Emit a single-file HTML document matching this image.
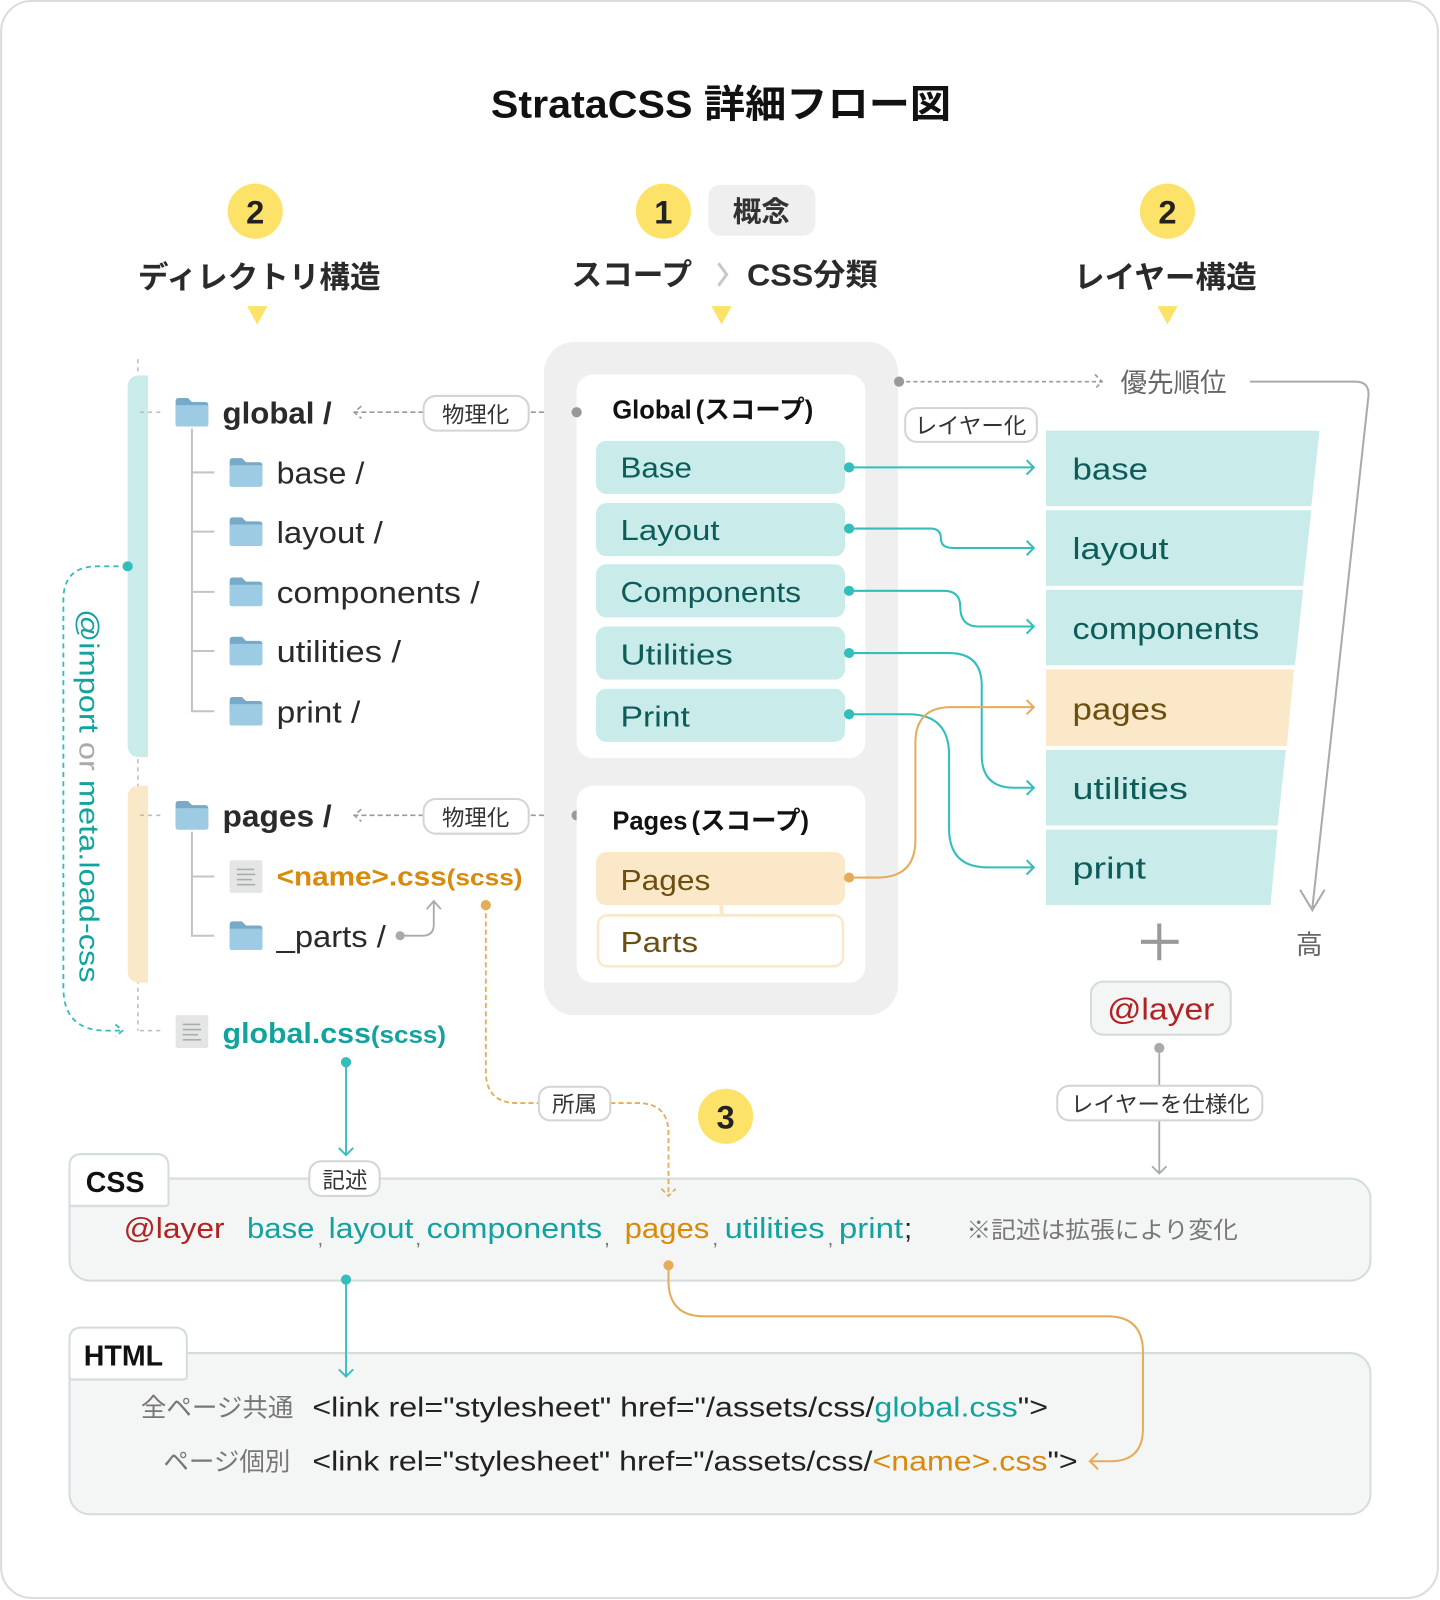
<!DOCTYPE html>
<html><head><meta charset="utf-8"><style>
html,body{margin:0;padding:0;background:#fff;}
svg{display:block;}
text{font-family:"Liberation Sans","Noto Sans CJK JP",sans-serif;}
</style></head><body>
<svg width="1440" height="1600" viewBox="0 0 1411 1568" xmlns="http://www.w3.org/2000/svg">
<defs>
<g id="fold"><path d="M0 3 q0-3 3-3 h9 l4 4 h13 q3 0 3 3 v18 q0 3-3 3 h-26 q-3 0-3-3z" fill="#77a9c9"/><rect x="0" y="7" width="32" height="21" rx="2" fill="#9ccbe3"/></g>
<g id="doc"><rect width="32" height="32" rx="2" fill="#e4e6e6"/><g stroke="#a9adad" stroke-width="1.6"><line x1="7" y1="9" x2="24" y2="9"/><line x1="7" y1="14" x2="25" y2="14"/><line x1="7" y1="19" x2="22" y2="19"/><line x1="7" y1="24" x2="25" y2="24"/></g></g>
</defs>
<rect x="1" y="1" width="1408" height="1565" rx="30" fill="#fff" stroke="#dcdcdc" stroke-width="2"/>

<text x="481" y="115" font-size="38" font-weight="bold" fill="#111" textLength="451" lengthAdjust="spacingAndGlyphs">StrataCSS 詳細フロー図</text>

<g font-weight="bold" font-size="32" text-anchor="middle" fill="#222">
<circle cx="250" cy="207" r="27" fill="#fde26a"/><text x="250" y="219">2</text>
<circle cx="650" cy="207" r="27" fill="#fde26a"/><text x="650" y="219">1</text>
<circle cx="1144" cy="207" r="27" fill="#fde26a"/><text x="1144" y="219">2</text>
<circle cx="711" cy="1094" r="27" fill="#fde26a"/><text x="711" y="1106">3</text>
</g>
<rect x="694" y="181" width="105" height="50" rx="12" fill="#efefef"/>
<text x="746" y="217" text-anchor="middle" font-size="28" font-weight="bold" fill="#333">概念</text>

<g font-size="30" font-weight="bold" fill="#2a2a2a">
<text x="254" y="282" text-anchor="middle">ディレクトリ構造</text>
<text x="560" y="280">スコープ</text>
<text x="732" y="280" textLength="128" lengthAdjust="spacingAndGlyphs">CSS分類</text>
<text x="1142" y="282" text-anchor="middle">レイヤー構造</text>
</g>
<path d="M704 258 l8 11 l-8 11" fill="none" stroke="#c8c8c8" stroke-width="3"/>
<g fill="#fde26a"><path d="M242 300 h20 l-10 18z"/><path d="M697 300 h20 l-10 18z"/><path d="M1134 300 h20 l-10 18z"/></g>

<!-- left tree -->
<line x1="135" y1="352" x2="135" y2="1010" stroke="#bbb" stroke-width="1.5" stroke-dasharray="4 4"/>
<path d="M145 368 v374 h-8 q-12 0 -12-12 v-350 q0-12 12-12z" fill="#c9ecea"/>
<path d="M145 770 v193 h-8 q-12 0 -12-12 v-169 q0-12 12-12z" fill="#fbe8c8"/>
<g stroke="#bbb" stroke-width="1.5" stroke-dasharray="4 4"><line x1="137" y1="404" x2="160" y2="404"/><line x1="137" y1="799" x2="160" y2="799"/><line x1="137" y1="1010" x2="160" y2="1010"/></g>
<path d="M188 420 V697 H210 M188 463 H210 M188 521 H210 M188 580 H210 M188 638 H210" fill="none" stroke="#c4c4c4" stroke-width="2"/>
<path d="M188 815 V917 H210 M188 859 H210" fill="none" stroke="#c4c4c4" stroke-width="2"/>
<use href="#fold" x="172" y="390"/>
<use href="#fold" x="225" y="449"/>
<use href="#fold" x="225" y="507"/>
<use href="#fold" x="225" y="566"/>
<use href="#fold" x="225" y="624"/>
<use href="#fold" x="225" y="683"/>
<use href="#fold" x="172" y="785"/>
<use href="#doc" x="225" y="843"/>
<use href="#fold" x="225" y="903"/>
<use href="#doc" x="172" y="995"/>
<g fill="#2a2a2a" font-size="30" lengthAdjust="spacingAndGlyphs">
<text x="218" y="415" font-weight="bold" textLength="107" lengthAdjust="spacingAndGlyphs">global /</text>
<text x="271" y="474" textLength="86" lengthAdjust="spacingAndGlyphs">base /</text>
<text x="271" y="532" textLength="104" lengthAdjust="spacingAndGlyphs">layout /</text>
<text x="271" y="591" textLength="199" lengthAdjust="spacingAndGlyphs">components /</text>
<text x="271" y="649" textLength="122" lengthAdjust="spacingAndGlyphs">utilities /</text>
<text x="271" y="708" textLength="82" lengthAdjust="spacingAndGlyphs">print /</text>
<text x="218" y="810" font-weight="bold" textLength="107" lengthAdjust="spacingAndGlyphs">pages /</text>
<text x="271" y="928" textLength="107" lengthAdjust="spacingAndGlyphs">_parts /</text>
</g>
<text x="271" y="868" font-size="26" font-weight="bold" fill="#d98a0a" textLength="241" lengthAdjust="spacingAndGlyphs">&lt;name&gt;.css<tspan font-size="23">(scss)</tspan></text>
<text x="218" y="1022" font-size="28" font-weight="bold" fill="#13a39f" textLength="219" lengthAdjust="spacingAndGlyphs">global.css<tspan font-size="24">(scss)</tspan></text>
<circle cx="392" cy="917" r="4.5" fill="#aaa"/>
<path d="M392 917 h22 q11 0 11-11 v-22 M418 891 l7-8 l7 8" fill="none" stroke="#aaa" stroke-width="1.8"/>

<text transform="translate(78,597) rotate(90)" font-size="27" fill="#13a39f" textLength="366" lengthAdjust="spacingAndGlyphs">@import <tspan fill="#aaa">or</tspan> meta.load-css</text>
<circle cx="125" cy="555" r="5" fill="#33bdbb"/>
<path d="M125 555 h-30 q-33 0 -33 33 v380 q0 42 42 42 h14 M113 1004 l7 6 l-7 6" fill="none" stroke="#33bdbb" stroke-width="1.8" stroke-dasharray="5 4"/>

<path d="M565 404 H518 M415 404 H347 M354 398 l-7 6 l7 6" fill="none" stroke="#999" stroke-width="1.6" stroke-dasharray="5 3"/>
<rect x="415" y="388" width="103" height="34" rx="12" fill="#fff" stroke="#d4d4d4" stroke-width="2"/>
<text x="466" y="414" text-anchor="middle" font-size="22" fill="#333">物理化</text>
<path d="M565 799 H518 M415 799 H347 M354 793 l-7 6 l7 6" fill="none" stroke="#999" stroke-width="1.6" stroke-dasharray="5 3"/>
<rect x="415" y="783" width="103" height="34" rx="12" fill="#fff" stroke="#d4d4d4" stroke-width="2"/>
<text x="466" y="809" text-anchor="middle" font-size="22" fill="#333">物理化</text>

<!-- center -->
<rect x="533" y="335" width="347" height="660" rx="30" fill="#efefef"/>
<rect x="565" y="367" width="283" height="376" rx="16" fill="#fff"/>
<circle cx="565" cy="404" r="5" fill="#999"/>
<circle cx="565" cy="799" r="5" fill="#999"/>
<text x="600" y="410" font-size="25" font-weight="bold" fill="#111">Global<tspan dx="4">(スコープ)</tspan></text>
<g fill="#c9ecea">
<rect x="584" y="432" width="244" height="52" rx="10"/>
<rect x="584" y="493" width="244" height="52" rx="10"/>
<rect x="584" y="553" width="244" height="52" rx="10"/>
<rect x="584" y="614" width="244" height="52" rx="10"/>
<rect x="584" y="675" width="244" height="52" rx="10"/>
</g>
<g font-size="28" fill="#0d5c5a">
<text x="608" y="468" textLength="70" lengthAdjust="spacingAndGlyphs">Base</text>
<text x="608" y="529" textLength="97" lengthAdjust="spacingAndGlyphs">Layout</text>
<text x="608" y="590" textLength="177" lengthAdjust="spacingAndGlyphs">Components</text>
<text x="608" y="651" textLength="110" lengthAdjust="spacingAndGlyphs">Utilities</text>
<text x="608" y="712" textLength="68" lengthAdjust="spacingAndGlyphs">Print</text>
</g>
<rect x="565" y="770" width="283" height="193" rx="16" fill="#fff"/>
<text x="600" y="813" font-size="25" font-weight="bold" fill="#111">Pages<tspan dx="4">(スコープ)</tspan></text>
<rect x="584" y="835" width="244" height="52" rx="10" fill="#fbe8c8"/>
<line x1="707" y1="887" x2="707" y2="897" stroke="#fbe8c8" stroke-width="4"/>
<rect x="586" y="897" width="240" height="50" rx="9" fill="#fff" stroke="#fbe8c8" stroke-width="2.5"/>
<text x="608" y="872" font-size="28" fill="#6b4e10" textLength="88" lengthAdjust="spacingAndGlyphs">Pages</text>
<text x="608" y="933" font-size="28" fill="#6b4e10" textLength="76" lengthAdjust="spacingAndGlyphs">Parts</text>

<!-- connectors -->
<g fill="none" stroke="#33bdbb" stroke-width="2">
<path d="M832 458 H1013"/>
<path d="M832 518 H912 q10 0 10 10 q0 9 12 9 H1013"/>
<path d="M832 579 H925 q16 0 16 16 q0 19 18 19 H1013"/>
<path d="M832 640 H930 q32 0 32 32 V740 q0 32 32 32 H1013"/>
<path d="M832 700 H890 q40 0 40 40 V812 q0 38 38 38 H1013"/>
<path d="M1006 451 l7 7 l-7 7 M1006 530 l7 7 l-7 7 M1006 607 l7 7 l-7 7 M1006 765 l7 7 l-7 7 M1006 843 l7 7 l-7 7"/>
</g>
<g fill="#33bdbb"><circle cx="832" cy="458" r="5"/><circle cx="832" cy="518" r="5"/><circle cx="832" cy="579" r="5"/><circle cx="832" cy="640" r="5"/><circle cx="832" cy="700" r="5"/></g>
<path d="M832 860 H860 q37 0 37-37 V728 q0-35 35-35 H1013 M1006 686 l7 7 l-7 7" fill="none" stroke="#e5ad5a" stroke-width="2"/>
<circle cx="832" cy="860" r="5" fill="#e5ad5a"/>

<rect x="887" y="400" width="129" height="33" rx="11" fill="#fff" stroke="#d4d4d4" stroke-width="2"/>
<text x="951" y="425" text-anchor="middle" font-size="22" fill="#333">レイヤー化</text>

<!-- layers -->
<g fill="#c9ecea">
<path d="M1025 422 H1293 L1285 496 H1025z"/>
<path d="M1025 500 H1285 L1277 574 H1025z"/>
<path d="M1025 578 H1277 L1269 652 H1025z"/>
<path d="M1025 735 H1260 L1252 809 H1025z"/>
<path d="M1025 813 H1252 L1245 887 H1025z"/>
</g>
<path d="M1025 656 H1268 L1261 731 H1025z" fill="#fbe8c8"/>
<g font-size="30" fill="#0d5c5a">
<text x="1051" y="470" textLength="74" lengthAdjust="spacingAndGlyphs">base</text>
<text x="1051" y="548" textLength="94" lengthAdjust="spacingAndGlyphs">layout</text>
<text x="1051" y="626" textLength="183" lengthAdjust="spacingAndGlyphs">components</text>
<text x="1051" y="705" fill="#6b4e10" textLength="93" lengthAdjust="spacingAndGlyphs">pages</text>
<text x="1051" y="783" textLength="113" lengthAdjust="spacingAndGlyphs">utilities</text>
<text x="1051" y="861" textLength="72" lengthAdjust="spacingAndGlyphs">print</text>
</g>

<circle cx="881" cy="374" r="5" fill="#999"/>
<path d="M881 374 H1080 M1073 367 l7 7 l-7 7" fill="none" stroke="#999" stroke-width="1.6" stroke-dasharray="4 3"/>
<text x="1098" y="384" font-size="26" fill="#666">優先順位</text>
<path d="M1225 374 H1328 q14 0 13 14 L1286 890 M1274 872 l12 20 l12 -20" fill="none" stroke="#aaa" stroke-width="2"/>
<text x="1283" y="935" text-anchor="middle" font-size="26" fill="#666">高</text>
<path d="M1118 923 H1155 M1136 905 V941" stroke="#999" stroke-width="4"/>
<rect x="1069" y="962" width="137" height="52" rx="12" fill="#f4f6f6" stroke="#d5dada" stroke-width="2"/>
<text x="1085" y="999" font-size="30" fill="#b22222" textLength="105" lengthAdjust="spacingAndGlyphs">@layer</text>

<!-- CSS panel -->
<rect x="68" y="1155" width="1275" height="100" rx="20" fill="#f4f6f6" stroke="#d5dcdc" stroke-width="2"/>
<path d="M68 1180 V1143 q0-12 12-12 H153 q12 0 12 12 V1180 Z" fill="#fff"/>
<path d="M68 1182 V1143 q0-12 12-12 H153 q12 0 12 12 V1180 Q165 1182 160 1182 H68" fill="none" stroke="#d5dcdc" stroke-width="2"/>
<text x="84" y="1168" font-size="28" font-weight="bold" fill="#111">CSS</text>
<g font-size="28">
<text x="121" y="1213" fill="#b22222" textLength="99" lengthAdjust="spacingAndGlyphs">@layer</text>
<text x="242" y="1213" fill="#13a39f" textLength="66" lengthAdjust="spacingAndGlyphs">base</text>
<text x="322" y="1213" fill="#13a39f" textLength="83" lengthAdjust="spacingAndGlyphs">layout</text>
<text x="418" y="1213" fill="#13a39f" textLength="172" lengthAdjust="spacingAndGlyphs">components</text>
<text x="612" y="1213" fill="#d98a0a" textLength="83" lengthAdjust="spacingAndGlyphs">pages</text>
<text x="710" y="1213" fill="#13a39f" textLength="98" lengthAdjust="spacingAndGlyphs">utilities</text>
<text x="822" y="1213" fill="#13a39f" textLength="63" lengthAdjust="spacingAndGlyphs">print</text>
<text x="886" y="1213" fill="#222">;</text>
</g>
<g font-size="20" fill="#777"><text x="311" y="1220">,</text><text x="407" y="1220">,</text><text x="592" y="1220">,</text><text x="698" y="1220">,</text><text x="811" y="1220">,</text></g>
<text x="947" y="1213" font-size="23" fill="#777" textLength="266" lengthAdjust="spacingAndGlyphs">※記述は拡張により変化</text>

<!-- HTML panel -->
<rect x="68" y="1326" width="1275" height="158" rx="20" fill="#f4f6f6" stroke="#d5dcdc" stroke-width="2"/>
<path d="M68 1350 V1313 q0-12 12-12 H171 q12 0 12 12 V1350 Z" fill="#fff"/>
<path d="M68 1352 V1313 q0-12 12-12 H171 q12 0 12 12 V1350 Q183 1352 178 1352 H68" fill="none" stroke="#d5dcdc" stroke-width="2"/>
<text x="82" y="1338" font-size="28" font-weight="bold" fill="#111">HTML</text>
<text x="138" y="1388" font-size="25" fill="#777">全ページ共通</text>
<text x="160" y="1441" font-size="25" fill="#777">ページ個別</text>
<text x="306" y="1388" font-size="27" fill="#222" textLength="721" lengthAdjust="spacingAndGlyphs">&lt;link rel="stylesheet" href="/assets/css/<tspan fill="#13a39f">global.css</tspan>"&gt;</text>
<text x="306" y="1441" font-size="27" fill="#222" textLength="750" lengthAdjust="spacingAndGlyphs">&lt;link rel="stylesheet" href="/assets/css/<tspan fill="#d98a0a">&lt;name&gt;.css</tspan>"&gt;</text>

<!-- connectors drawn on top of panels -->
<circle cx="1136" cy="1027" r="5" fill="#aaa"/>
<path d="M1136 1027 V1150 M1129 1143 l7 7 l7-7" fill="none" stroke="#aaa" stroke-width="1.8"/>
<rect x="1036" y="1064" width="201" height="34" rx="12" fill="#fff" stroke="#d4d4d4" stroke-width="2"/>
<text x="1137" y="1090" text-anchor="middle" font-size="22" fill="#333">レイヤーを仕様化</text>

<circle cx="476" cy="887" r="5" fill="#e5ad5a"/>
<path d="M476 887 V1050 q0 31 31 31 H528 M598 1081 H625 q30 0 30 30 V1172 M648 1165 l7 7 l7-7" fill="none" stroke="#e5ad5a" stroke-width="1.8" stroke-dasharray="5 3"/>
<rect x="528" y="1065" width="70" height="33" rx="11" fill="#fff" stroke="#d4d4d4" stroke-width="2"/>
<text x="563" y="1090" text-anchor="middle" font-size="22" fill="#333">所属</text>

<circle cx="339" cy="1041" r="5" fill="#33bdbb"/>
<path d="M339 1041 V1132 M332 1125 l7 7 l7-7" fill="none" stroke="#33bdbb" stroke-width="1.8"/>
<rect x="303" y="1138" width="69" height="34" rx="12" fill="#fff" stroke="#d4d4d4" stroke-width="2"/>
<text x="338" y="1164" text-anchor="middle" font-size="22" fill="#333">記述</text>

<circle cx="339" cy="1254" r="5" fill="#33bdbb"/>
<path d="M339 1254 V1349 M332 1342 l7 7 l7-7" fill="none" stroke="#33bdbb" stroke-width="1.8"/>
<circle cx="655" cy="1240" r="5" fill="#e5ad5a"/>
<path d="M655 1240 V1255 q0 35 35 35 H1085 q35 0 35 35 V1400 q0 32 -32 32 H1068 M1076 1424 l-8 8 l8 8" fill="none" stroke="#e5ad5a" stroke-width="2"/>
</svg>
</body></html>
